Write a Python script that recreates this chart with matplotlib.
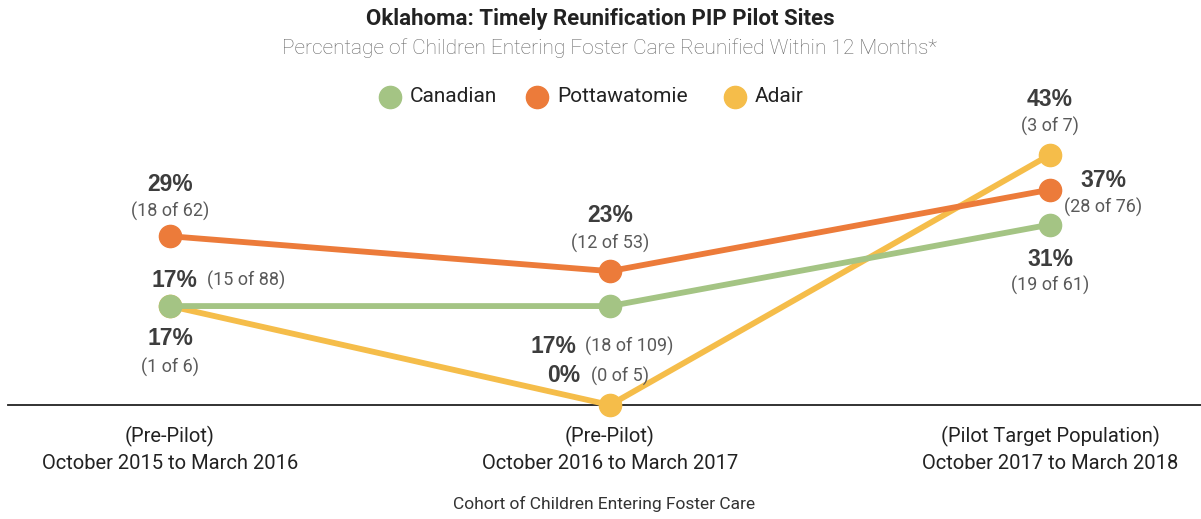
import matplotlib
matplotlib.use("Agg")
import matplotlib.pyplot as plt
from matplotlib.lines import Line2D

plt.rcParams['font.family'] = ['Roboto', 'DejaVu Sans']

periods = ["(Pre-Pilot)\nOctober 2015 to March 2016",
           "(Pre-Pilot)\nOctober 2016 to March 2017",
           "(Pilot Target Population)\nOctober 2017 to March 2018"]
series_names = ["Canadian", "Pottawatomie", "Adair"]
canadian = [17, 17, 31]
pottawatomie = [29, 23, 37]
adair = [17, 0, 43]
canadian_counts = ["(15 of 88)", "(18 of 109)", "(19 of 61)"]
pottawatomie_counts = ["(18 of 62)", "(12 of 53)", "(28 of 76)"]
adair_counts = ["(1 of 6)", "(0 of 5)", "(3 of 7)"]

colors = {"Canadian": "#A4C484", "Pottawatomie": "#EC7B3A", "Adair": "#F5BD4A"}
zorders = {"Canadian": 4, "Pottawatomie": 5, "Adair": 3}
dark = "#3d3d3d"
grey = "#5a5a5a"

W, H = 1201, 519
fig = plt.figure(figsize=(W / 100, H / 100), dpi=100)
ax = fig.add_axes([8 / W, (H - 405) / H, (W - 8) / W, 345 / H])

x = list(range(len(periods)))
data = [canadian, pottawatomie, adair]
for name, vals in zip(series_names, data):
    ax.plot(x, vals, color=colors[name], lw=4.2, marker="o", ms=16,
            solid_capstyle="round", clip_on=False, zorder=zorders[name])

ax.set_xlim(-0.368, 2.343)
ax.set_ylim(0, 345 / 5.82)
for s in ["top", "left", "right"]:
    ax.spines[s].set_visible(False)
ax.spines["bottom"].set_color("#222222")
ax.spines["bottom"].set_linewidth(1.3)
ax.spines["bottom"].set_zorder(1)
ax.set_yticks([])
ax.set_xticks(x)
ax.set_xticklabels(periods, fontsize=14.5, color="#222222", linespacing=1.45)
ax.tick_params(axis="x", length=0, pad=15)
ax.set_xlabel("Cohort of Children Entering Foster Care", fontsize=12.5,
              color="#333333", labelpad=17)

def lab(i, v, txt, dx, dy, bold, ha="center"):
    ax.annotate(txt, xy=(i, v), xytext=(dx, dy), textcoords="offset pixels",
                ha=ha, va="center",
                fontsize=16.5 if bold else 13,
                family=['Liberation Sans', 'DejaVu Sans'] if bold else ['Roboto', 'DejaVu Sans'],
                fontweight="bold" if bold else "normal",
                color=dark if bold else grey, zorder=6)

# Pottawatomie
lab(0, pottawatomie[0], f"{pottawatomie[0]}%", 0, 52, True)
lab(0, pottawatomie[0], pottawatomie_counts[0], 0, 25, False)
lab(1, pottawatomie[1], f"{pottawatomie[1]}%", 0, 56, True)
lab(1, pottawatomie[1], pottawatomie_counts[1], 0, 28, False)
lab(2, pottawatomie[2], f"{pottawatomie[2]}%", 53, 9, True)
lab(2, pottawatomie[2], pottawatomie_counts[2], 53, -18, False)
# Canadian
lab(0, canadian[0], f"{canadian[0]}%", 27, 26, True, ha="right")
lab(0, canadian[0], canadian_counts[0], 37, 26, False, ha="left")
lab(1, canadian[1], f"{canadian[1]}%", -34, -40, True, ha="right")
lab(1, canadian[1], canadian_counts[1], -25, -40, False, ha="left")
lab(2, canadian[2], f"{canadian[2]}%", 0, -35, True)
lab(2, canadian[2], canadian_counts[2], 0, -61, False)
# Adair
lab(0, adair[0], f"{adair[0]}%", 0, -32, True)
lab(0, adair[0], adair_counts[0], 0, -61, False)
lab(1, adair[1], f"{adair[1]}%", -30, 29, True, ha="right")
lab(1, adair[1], adair_counts[1], -19, 29, False, ha="left")
lab(2, adair[2], f"{adair[2]}%", 0, 55, True)
lab(2, adair[2], adair_counts[2], 0, 28, False)

fig.text(600 / W, 1 - 19 / H, "Oklahoma: Timely Reunification PIP Pilot Sites",
         ha="center", va="center", fontsize=16, fontweight="bold", color="#222222")
fig.text(609 / W, 1 - 48 / H,
         "Percentage of Children Entering Foster Care Reunified Within 12 Months*",
         ha="center", va="center", fontsize=15, fontweight="light", color="#666666")

# legend (manual placement)
legend_marker_px = [390, 537, 735]
for name, mx in zip(series_names, legend_marker_px):
    fig.add_artist(Line2D([mx / W], [1 - 97 / H], ls="none", marker="o", ms=16,
                          color=colors[name], transform=fig.transFigure))
    fig.text((mx + 20) / W, 1 - 97 / H, name, ha="left", va="center",
             fontsize=15, color="#222222")

fig.savefig("out.png", dpi=100)
